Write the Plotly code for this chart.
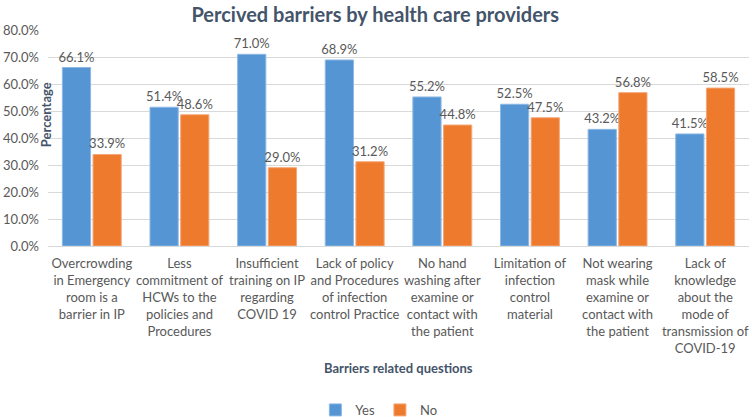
import plotly.graph_objects as go

categories = [
    "Overcrowding<br>in Emergency<br>room is a<br>barrier in IP",
    "Less<br>commitment of<br>HCWs to the<br>policies and<br>Procedures",
    "Insufficient<br>training on IP<br>regarding<br>COVID 19",
    "Lack of policy<br>and Procedures<br>of infection<br>control Practice",
    "No hand<br>washing after<br>examine or<br>contact with<br>the patient",
    "Limitation of<br>infection<br>control<br>material",
    "Not wearing<br>mask while<br>examine or<br>contact with<br>the patient",
    "Lack of<br>knowledge<br>about the<br>mode of<br>transmission of<br>COVID-19",
]
yes_values = [0.661, 0.514, 0.710, 0.689, 0.552, 0.525, 0.432, 0.415]
no_values = [0.339, 0.486, 0.290, 0.312, 0.448, 0.475, 0.568, 0.585]
tick_values = [0.0, 0.1, 0.2, 0.3, 0.4, 0.5, 0.6, 0.7, 0.8]

FONT = "Lato"
GREY = "#595959"
DARK = "#44546A"

fig = go.Figure()
fig.add_trace(go.Bar(
    name="Yes", x=categories, y=yes_values,
    marker=dict(color="#5595D3", line=dict(color="#8DB8E4", width=1)),
    text=[f"{v*100:.1f}%" for v in yes_values], textposition="outside",
    constraintext="none",
    textfont=dict(family=FONT, size=13, color=GREY), cliponaxis=False,
))
fig.add_trace(go.Bar(
    name="No", x=categories, y=no_values,
    marker=dict(color="#EE7A2E", line=dict(color="#F4A878", width=1)),
    text=[f"{v*100:.1f}%" for v in no_values], textposition="outside",
    constraintext="none",
    textfont=dict(family=FONT, size=13, color=GREY), cliponaxis=False,
))

fig.update_layout(
    width=752, height=417, autosize=False,
    margin=dict(l=48, r=3, t=30, b=171, autoexpand=False),
    paper_bgcolor="white", plot_bgcolor="white",
    barmode="group", bargap=0.30, bargroupgap=0.08,
    font=dict(family=FONT, color=GREY, size=13),
    title=dict(text="<b>Percived barriers by health care providers</b>",
               x=0.499, xref="container", xanchor="center", y=0.964, yanchor="middle",
               font=dict(family=FONT, size=20, color=DARK)),
    showlegend=True,
    legend=dict(orientation="h", x=0.472, xanchor="center",
                y=-0.759, yanchor="middle", font=dict(family=FONT, size=13, color=GREY),
                traceorder="normal"),
)
fig.update_xaxes(showgrid=False, ticks="", showline=False, automargin=False,
                 ticklabelstandoff=8,
                 tickfont=dict(family=FONT, size=13, color=GREY), tickangle=0)
fig.update_yaxes(range=[0, 0.8], tickvals=tick_values, tickformat=".1%",
                 showgrid=True, gridcolor="#D9D9D9", gridwidth=1,
                 zeroline=True, zerolinecolor="#D9D9D9", zerolinewidth=1,
                 ticks="", showline=False, automargin=False, ticklabelstandoff=8,
                 tickfont=dict(family=FONT, size=13, color=GREY))

fig.add_annotation(text="<b>Percentage</b>", textangle=-90, xref="paper", yref="paper",
                   x=-0.003, y=0.61, xanchor="center", yanchor="middle", showarrow=False,
                   font=dict(family=FONT, size=13, color=DARK))
fig.add_annotation(text="<b>Barriers related questions</b>", xref="paper", yref="paper",
                   x=0.5, y=-0.565, xanchor="center", yanchor="middle", showarrow=False,
                   font=dict(family=FONT, size=13, color=DARK))

fig.write_html("out.html", config={"displayModeBar": False},
               post_script="document.body.style.margin='0px';")
